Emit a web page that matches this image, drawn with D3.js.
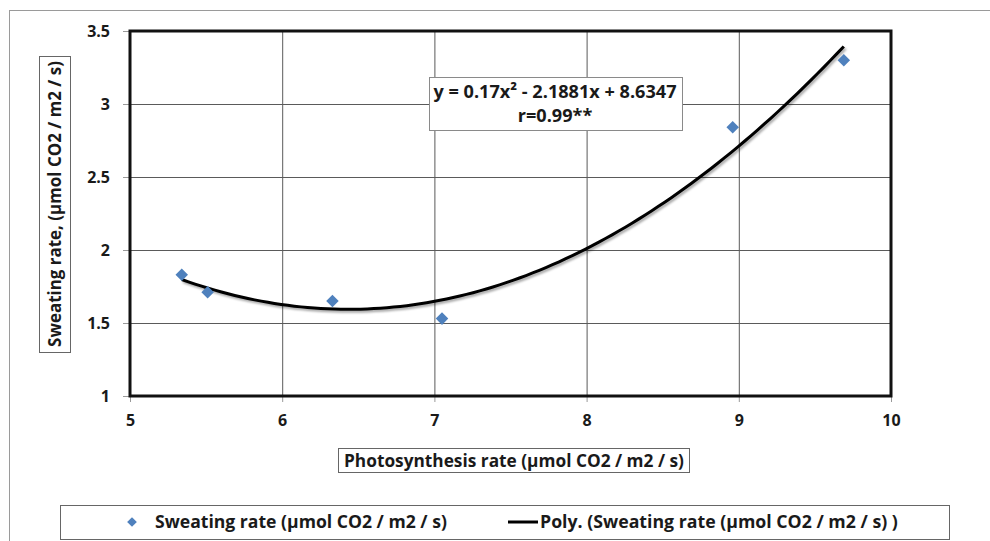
<!DOCTYPE html>
<html>
<head>
<meta charset="utf-8">
<script src="https://cdn.jsdelivr.net/npm/d3@7"></script>
<style>
  body { margin: 0; background: #fff; }
  text { font-family: "Open Sans", Lato, sans-serif; font-weight: bold; fill: #1a1a1a; }
</style>
</head>
<body>
<svg id="chart" width="990" height="541"></svg>
<script>
// ---- data ----
const photosynthesis = [5.34, 5.51, 6.33, 7.05, 8.96, 9.69];
const sweating = [1.83, 1.71, 1.65, 1.53, 2.84, 3.30];
const polyCoefficients = [0.17, -2.1881, 8.6347]; // a, b, c of the shown trendline
const xTicks = [5, 6, 7, 8, 9, 10];
const yTicks = [1, 1.5, 2, 2.5, 3, 3.5];
const xTitle = "Photosynthesis rate (µmol CO2 / m2 / s)";
const yTitle = "Sweating rate, (µmol CO2 / m2 / s)";
const equationLines = ["y = 0.17x² - 2.1881x + 8.6347", "r=0.99**"];
const legendLabels = ["Sweating rate (µmol CO2 / m2 / s)", "Poly. (Sweating rate (µmol CO2 / m2 / s) )"];

const svg = d3.select("#chart");
const plot = { left: 130, right: 891, top: 31, bottom: 396 };

const x = d3.scaleLinear().domain([5, 10]).range([plot.left, plot.right]);
const y = d3.scaleLinear().domain([1, 3.5]).range([plot.bottom, plot.top]);

// fit a text element's font size so that it spans the target width
function fit(sel, target) {
  const w = sel.node().getComputedTextLength();
  const fs = parseFloat(sel.style("font-size"));
  sel.style("font-size", (fs * target / w).toFixed(2) + "px");
  return sel;
}

// defs
const defs = svg.append("defs");
const sh = defs.append("filter").attr("id", "shadow").attr("x", "-10%").attr("y", "-10%").attr("width", "130%").attr("height", "140%");
sh.append("feDropShadow").attr("dx", 1.5).attr("dy", 2).attr("stdDeviation", 1.2)
  .attr("flood-color", "#000").attr("flood-opacity", 0.35);

// outer border
svg.append("rect").attr("x", 9.5).attr("y", 10.5).attr("width", 1000).attr("height", 600)
  .attr("fill", "none").attr("stroke", "#9a9a9a").attr("stroke-width", 1);

// gridlines
svg.append("g").selectAll("line").data(yTicks.filter(d => d > 1 && d < 3.5)).join("line")
  .attr("x1", plot.left).attr("x2", plot.right)
  .attr("y1", d => y(d) + 0.5).attr("y2", d => y(d) + 0.5)
  .attr("stroke", "#5a5a5a").attr("stroke-width", 1);
svg.append("g").selectAll("line").data(xTicks.filter(d => d > 5 && d < 10)).join("line")
  .attr("y1", plot.top).attr("y2", plot.bottom)
  .attr("x1", d => x(d) + 0.5).attr("x2", d => x(d) + 0.5)
  .attr("stroke", "#5a5a5a").attr("stroke-width", 1);

// axes
const yAxis = d3.axisLeft(y).tickValues(yTicks).tickSize(7).tickPadding(13).tickFormat(d3.format("~g"));
const gy = svg.append("g").attr("transform", `translate(${plot.left},0)`).call(yAxis);
gy.select(".domain").remove();
gy.selectAll(".tick line").attr("stroke", "#999");
gy.selectAll(".tick text").style("font-size", "16px").attr("font-family", null).attr("fill", "#1a1a1a");

const xAxis = d3.axisBottom(x).tickValues(xTicks).tickSize(6).tickPadding(13).tickFormat(d3.format("d"));
const gx = svg.append("g").attr("transform", `translate(0,${plot.bottom})`).call(xAxis);
gx.select(".domain").remove();
gx.selectAll(".tick line").attr("stroke", "#999");
gx.selectAll(".tick text").style("font-size", "16px").attr("font-family", null).attr("fill", "#1a1a1a");

// plot frame
svg.append("rect").attr("x", plot.left).attr("y", plot.top)
  .attr("width", plot.right - plot.left).attr("height", plot.bottom - plot.top)
  .attr("fill", "none").attr("stroke", "#111").attr("stroke-width", 3);

// trendline
const [a, b, c] = polyCoefficients;
const xs = d3.range(0, 101).map(i => photosynthesis[0] + (d3.max(photosynthesis) - photosynthesis[0]) * i / 100);
const line = d3.line().x(d => x(d)).y(d => y(a * d * d + b * d + c));
svg.append("path").datum(xs).attr("d", line)
  .attr("fill", "none").attr("stroke", "#000").attr("stroke-width", 3)
  .attr("filter", "url(#shadow)");

// points
const diamond = d3.symbol().type(d3.symbolDiamond2).size(100);
svg.append("g").selectAll("path").data(photosynthesis.map((p, i) => [p, sweating[i]])).join("path")
  .attr("d", diamond)
  .attr("transform", d => `translate(${x(d[0])},${y(d[1])})`)
  .attr("fill", "#4F81BD");

// equation box
svg.append("rect").attr("x", 429.5).attr("y", 77.5).attr("width", 253).attr("height", 53)
  .attr("fill", "#fff").attr("stroke", "#8a8a8a").attr("stroke-width", 1);
const eq1 = svg.append("text").attr("x", 555).attr("y", 98).attr("text-anchor", "middle")
  .style("font-size", "15px").text(equationLines[0]);
fit(eq1, 243);
svg.append("text").attr("x", 555).attr("y", 122).attr("text-anchor", "middle")
  .style("font-size", eq1.style("font-size")).text(equationLines[1]);

// x title box
svg.append("rect").attr("x", 338.5).attr("y", 448.5).attr("width", 351).attr("height", 24)
  .attr("fill", "#fff").attr("stroke", "#666");
fit(svg.append("text").attr("x", 514).attr("y", 467).attr("text-anchor", "middle")
  .style("font-size", "15px").text(xTitle), 340);

// y title box
svg.append("rect").attr("x", 39.5).attr("y", 56.5).attr("width", 31).attr("height", 296)
  .attr("fill", "#fff").attr("stroke", "#666");
fit(svg.append("text").attr("transform", "translate(61,204) rotate(-90)").attr("text-anchor", "middle")
  .style("font-size", "15px").text(yTitle), 286);

// legend
svg.append("rect").attr("x", 60.5).attr("y", 505.5).attr("width", 889).attr("height", 34)
  .attr("fill", "#fff").attr("stroke", "#666");
svg.append("path").attr("d", d3.symbol().type(d3.symbolDiamond2).size(60))
  .attr("transform", "translate(132,522)").attr("fill", "#4F81BD");
fit(svg.append("text").attr("x", 155).attr("y", 528).style("font-size", "15px").text(legendLabels[0]), 292);
svg.append("line").attr("x1", 508).attr("x2", 538).attr("y1", 522).attr("y2", 522)
  .attr("stroke", "#000").attr("stroke-width", 3);
fit(svg.append("text").attr("x", 540).attr("y", 528).style("font-size", "15px").text(legendLabels[1]), 358);
</script>
</body>
</html>
